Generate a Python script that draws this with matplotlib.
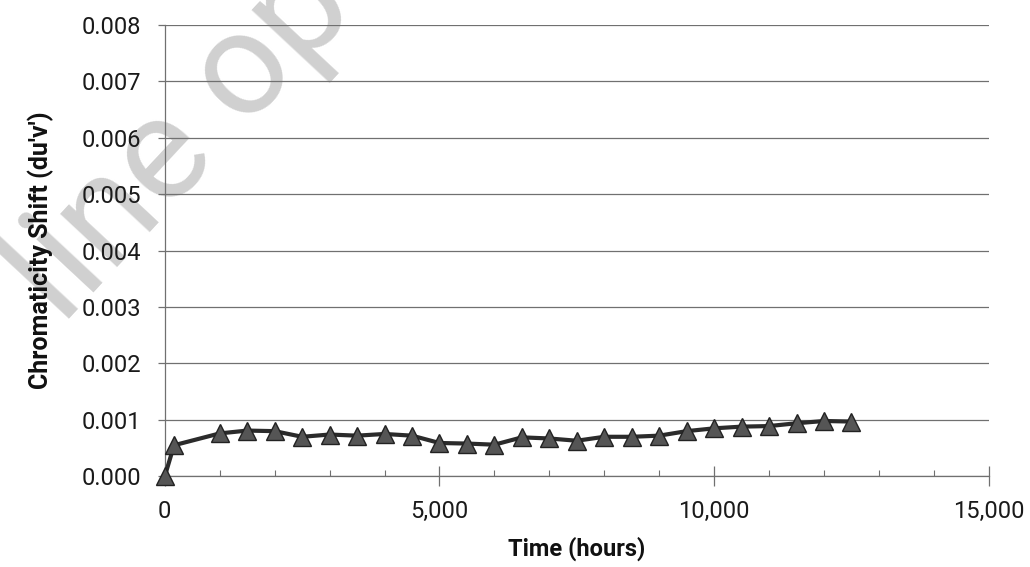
"""Chromaticity shift vs. time chart (scan reproduction)."""

import matplotlib

matplotlib.use("Agg")

import matplotlib.pyplot as plt  # noqa: E402
from matplotlib.ticker import FuncFormatter, MultipleLocator  # noqa: E402

# Data.
hours = [0, 168, 1000, 1500, 2000, 2500, 3000, 3500, 4000, 4500, 5000, 5500, 6000,
         6500, 7000, 7500, 8000, 8500, 9000, 9500, 10000, 10500, 11000, 11500,
         12000, 12500]
du_v = [0.0, 0.00055, 0.00076, 0.00081, 0.00080, 0.00070, 0.00074, 0.00072,
        0.00075, 0.00072, 0.00059, 0.00058, 0.00056, 0.00069, 0.00067, 0.00063,
        0.00070, 0.00070, 0.00072, 0.00080, 0.00085, 0.00088, 0.00089, 0.00094,
        0.00098, 0.00097]

x_ticks = [0, 5000, 10000, 15000]
y_ticks = [0.000, 0.001, 0.002, 0.003, 0.004, 0.005, 0.006, 0.007, 0.008]

GRID = "#707070"
LINE = "#2b2b2b"

plt.rcParams["font.family"] = ["Roboto", "DejaVu Sans"]

fig = plt.figure(figsize=(10.30, 5.67), dpi=100)
ax = fig.add_axes([0.160, 0.160, 0.800, 0.796])
ax.set_facecolor("none")

# Faint scanner watermark behind the chart.
fig.text(0.176, 0.752, "line op", fontsize=106, color="#d0d0d0", rotation=47,
         ha="center", va="center", rotation_mode="anchor", zorder=-1)

ax.plot(hours, du_v, color=LINE, linewidth=3.0, marker="^", markersize=13,
        markerfacecolor="#555555", markeredgecolor="#222222", markeredgewidth=1.0,
        clip_on=False, zorder=4)

ax.set_xlim(0, 15000)
ax.set_ylim(0, 0.008)
ax.set_xticks(x_ticks)
ax.set_yticks(y_ticks)
ax.xaxis.set_minor_locator(MultipleLocator(1000))
ax.xaxis.set_major_formatter(FuncFormatter(lambda v, _: f"{v:,.0f}"))
ax.yaxis.set_major_formatter(FuncFormatter(lambda v, _: f"{v:.3f}"))

ax.grid(axis="y", color=GRID, linewidth=0.9)
ax.set_axisbelow(True)
for side in ("top", "right"):
    ax.spines[side].set_visible(False)
for side in ("left", "bottom"):
    ax.spines[side].set_color(GRID)
    ax.spines[side].set_linewidth(0.9)

ax.tick_params(axis="y", which="major", length=5, width=0.9, color=GRID,
               direction="out", pad=12, labelsize=17, labelcolor="#1a1a1a")
ax.tick_params(axis="x", which="major", length=14, width=0.9, color=GRID,
               direction="inout", pad=10, labelsize=17, labelcolor="#1a1a1a")
ax.tick_params(axis="x", which="minor", length=4, width=0.8, color=GRID,
               direction="in")

ax.set_xlabel("Time (hours)", fontsize=17, fontweight="bold", labelpad=10,
              color="#111111")
ax.set_ylabel("Chromaticity Shift (du'v')", fontsize=18, fontweight="bold",
              color="#111111")
ax.yaxis.set_label_coords(-0.135, 0.5)

fig.savefig("out.png", dpi=100)
